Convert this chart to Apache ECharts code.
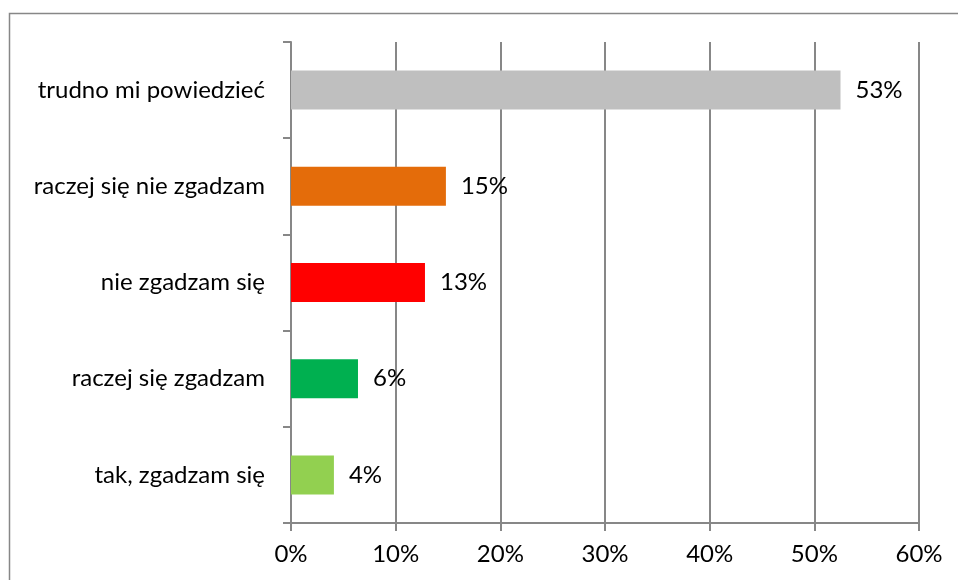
<!DOCTYPE html>
<html><head><meta charset="utf-8">
<script src="https://cdn.jsdelivr.net/npm/echarts@6/dist/echarts.min.js"></script>
<style>html,body{margin:0;padding:0;background:#fff}#c{width:958px;height:580px}</style>
</head><body><div id="c"></div>
<script>
const categories = ['trudno mi powiedzieć', 'raczej się nie zgadzam', 'nie zgadzam się', 'raczej się zgadzam', 'tak, zgadzam się'];
const values = [52.5, 14.8, 12.8, 6.4, 4.1];
const valueLabels = ['53%', '15%', '13%', '6%', '4%'];
const colors = ['#BFBFBF', '#E46C0A', '#FF0000', '#00B050', '#92D050'];
const xTicks = [0, 10, 20, 30, 40, 50, 60];

const FONT = 'Lato';
const FS = 24;
const chart = echarts.init(document.getElementById('c'), null, {renderer: 'canvas'});
chart.setOption({
  animation: false,
  textStyle: {fontFamily: FONT},
  graphic: [{type: 'rect', shape: {x: 9.5, y: 13.5, width: 970, height: 600}, style: {fill: 'none', stroke: '#878787', lineWidth: 1.5}, silent: true}],
  grid: {left: 291, top: 42, right: 39, bottom: 57, containLabel: false},
  xAxis: {
    type: 'value', min: xTicks[0], max: xTicks[xTicks.length - 1], interval: 10,
    axisLine: {show: true, lineStyle: {color: '#878787', width: 2}},
    axisTick: {show: true, length: 8, lineStyle: {color: '#878787', width: 2}},
    splitLine: {show: true, lineStyle: {color: '#878787', width: 2}},
    axisLabel: {formatter: v => v + '%', fontSize: FS, color: '#000', margin: 19, fontFamily: FONT}
  },
  yAxis: {
    type: 'category', data: categories, inverse: true,
    axisLine: {show: true, lineStyle: {color: '#878787', width: 2}},
    axisTick: {show: true, length: 8, lineStyle: {color: '#878787', width: 2}},
    axisLabel: {fontSize: FS, color: '#000', margin: 26, fontFamily: FONT}
  },
  series: [{
    type: 'bar', barWidth: 39,
    data: values.map((v, i) => ({value: v, itemStyle: {color: colors[i]}})),
    label: {show: true, position: 'right', distance: 15, fontSize: FS, color: '#000', fontFamily: FONT,
      formatter: p => valueLabels[p.dataIndex]}
  }]
});
</script></body></html>
